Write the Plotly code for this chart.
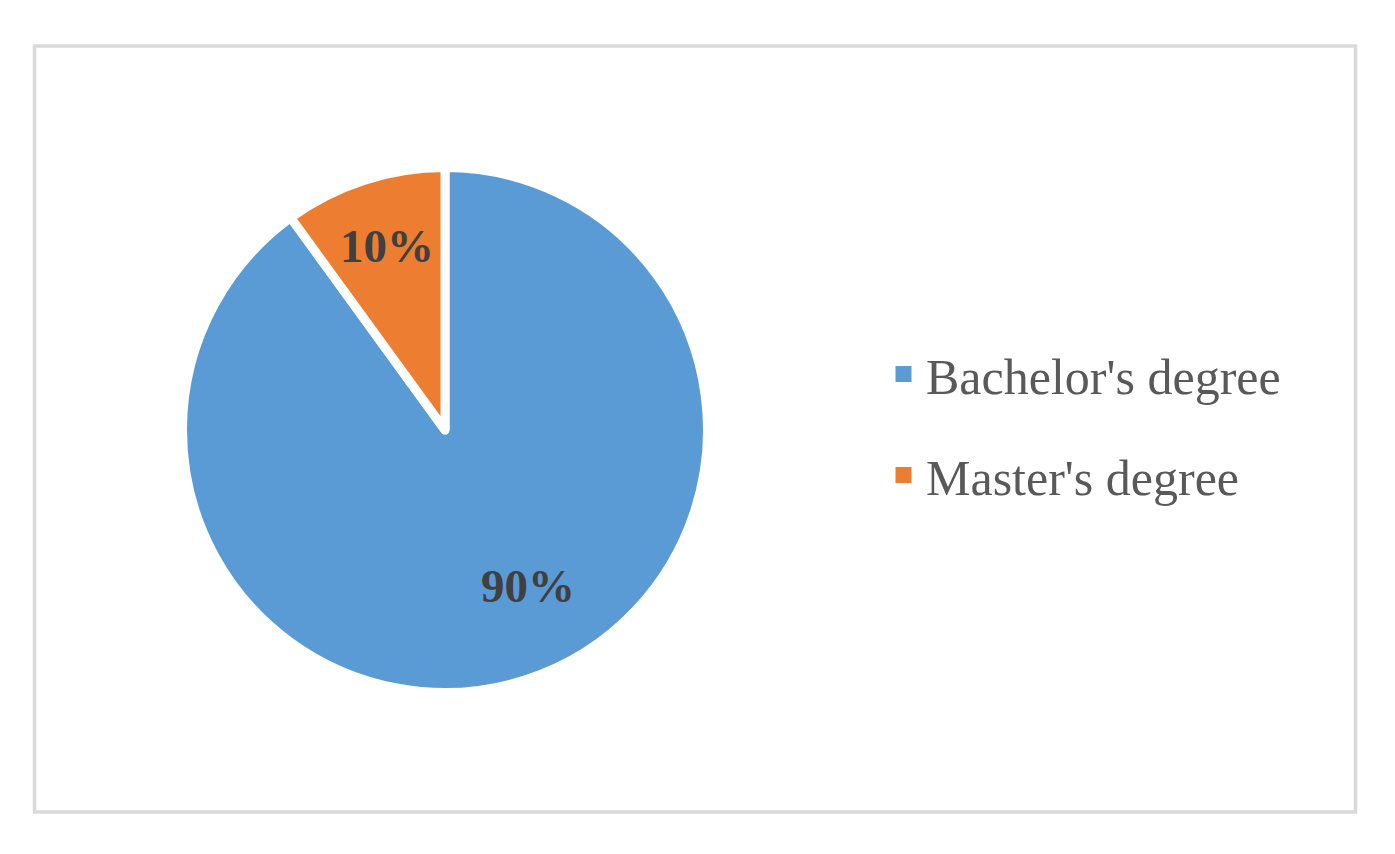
import plotly.graph_objects as go

labels = ["Bachelor's degree", "Master's degree"]
values = [90, 10]
colors = ["#5B9BD5", "#ED7D31"]

# page body has an 8px margin: figure coordinates = reference pixel - 8
OFF = 8
W, H = 1379, 838
FONT = "Palatino Linotype, Book Antiqua, Liberation Serif, serif"

def px(x):
    return (x - OFF) / W

def py(y):
    return 1 - (y - OFF) / H

fig = go.Figure()

# pie centred at (445, 430), radius ~258 px (+ half outline to compensate white stroke)
cx, cy, r = 445, 430, 262.5
fig.add_trace(go.Pie(
    labels=labels, values=values, sort=False, direction="clockwise", rotation=0,
    marker=dict(colors=colors, line=dict(color="white", width=9)),
    textinfo="none",
    domain=dict(x=[px(cx - r), px(cx + r)], y=[py(cy + r), py(cy - r)]),
    showlegend=False, hoverinfo="label+percent",
))

# data labels (percentages computed from the values)
total = sum(values)
label_pos = [(528, 586), (387, 246)]
annotations = []
for v, (lx, ly) in zip(values, label_pos):
    annotations.append(dict(
        x=px(lx), y=py(ly), xref="paper", yref="paper", showarrow=False,
        xanchor="center", yanchor="middle",
        text=f"<b>{v / total * 100:.0f}%</b>",
        font=dict(family=FONT, size=47, color="#404040"),
    ))

for lab, col, g in zip(labels, colors, ["a", "b"]):
    fig.add_trace(go.Scatter(
        x=[None], y=[None], mode="markers", name=lab, legendgroup=g,
        marker=dict(symbol="square", size=17, color=col), showlegend=True,
    ))

fig.update_layout(
    width=W, height=H,
    margin=dict(l=0, r=0, t=0, b=0),
    paper_bgcolor="white", plot_bgcolor="white",
    xaxis=dict(visible=False), yaxis=dict(visible=False),
    legend=dict(
        x=px(881), y=py(335), xanchor="left", yanchor="top",
        font=dict(family=FONT, size=50, color="#595959"),
        tracegroupgap=33, itemwidth=35, bgcolor="rgba(0,0,0,0)",
    ),
    annotations=annotations,
    shapes=[dict(type="rect", xref="paper", yref="paper",
                 x0=px(34.5), x1=px(1355.5), y0=py(812), y1=py(46),
                 line=dict(color="#D9D9D9", width=3.5), fillcolor="rgba(0,0,0,0)")],
)

fig.write_html("out.html")
